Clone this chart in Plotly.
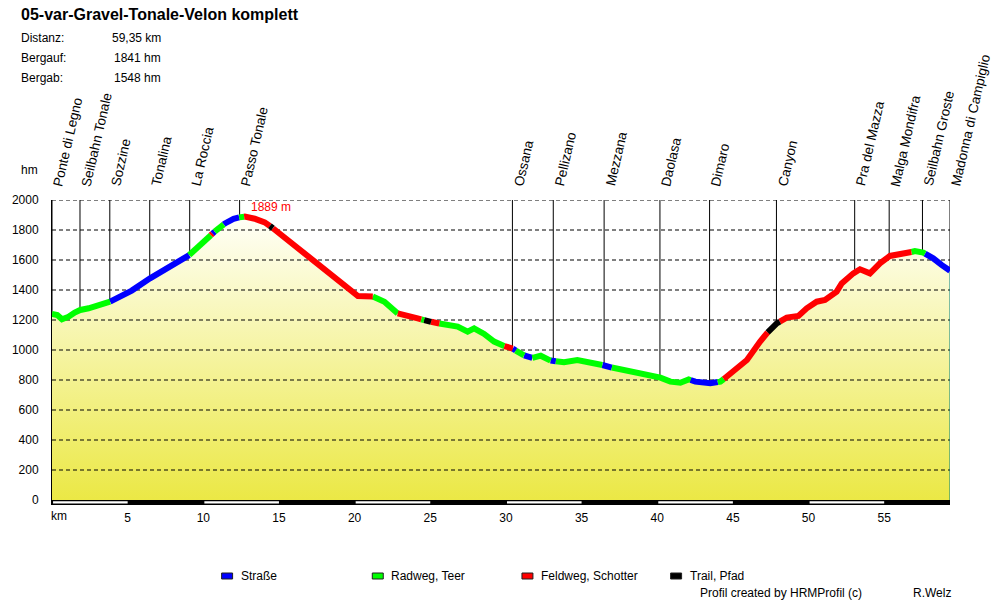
import numpy as np
import plotly.graph_objects as go

# ---------------- data ----------------
dist_km = [0.0, 0.35, 0.66, 1.1, 1.5, 1.87, 2.42, 3.3, 3.84, 4.6, 5.27, 6.48, 7.91, 9.07,
           9.89, 10.55, 10.66, 11.43, 12.0, 12.37, 12.74, 13.4, 14.06, 14.5, 14.61, 15.82,
           17.25, 18.46, 19.0, 19.66, 20.22, 21.2, 21.97, 22.85, 23.18, 24.17, 24.83, 25.49,
           26.2, 26.81, 27.47, 27.9, 28.56, 29.22, 29.88, 30.43, 31.0, 31.64, 32.3, 32.96,
           33.84, 34.72, 36.04, 36.7, 37.79, 39.1, 40.21, 40.87, 41.53, 42.08, 42.52, 43.51,
           44.17, 45.04, 45.5, 45.93, 46.8, 47.46, 47.9, 48.56, 49.33, 49.88, 50.54, 51.09, 51.86,
           52.19, 52.96, 53.4, 54.06, 54.72, 55.38, 56.48, 57.03, 57.58, 58.24, 58.79, 59.35]
elev_m = [1240, 1233, 1205, 1222, 1250, 1267, 1278, 1304, 1322, 1360, 1396, 1478, 1560, 1633,
          1711, 1770, 1782, 1844, 1874, 1884, 1889, 1875, 1851, 1820, 1811, 1711,
          1600, 1493, 1450, 1400, 1360, 1356, 1322, 1244, 1238, 1211, 1193, 1178,
          1170, 1156, 1122, 1144, 1107, 1056, 1027, 1011, 973, 944, 962, 929,
          918, 933, 911, 889, 867, 838, 816, 789, 782, 804, 789, 778,
          789, 856, 900, 933, 1056, 1138, 1178, 1216, 1227, 1278, 1322, 1333, 1389,
          1444, 1511, 1538, 1511, 1578, 1627, 1644, 1660, 1649, 1611, 1567, 1529]

waypoint_names = ["Ponte di Legno", "Seilbahn Tonale", "Sozzine", "Tonalina", "La Roccia",
                  "Passo Tonale", "Ossana", "Pellizano", "Mezzana", "Daolasa", "Dimaro",
                  "Canyon", "Pra del Mazza", "Malga Mondifra", "Seilbahn Groste",
                  "Madonna di Campiglio"]
waypoint_km = [0.0, 1.85, 3.82, 6.46, 9.1, 12.4, 30.43, 33.13, 36.49, 40.18, 43.46,
               47.88, 53.05, 55.33, 57.53, 59.35]

# surface segments: start km and type (S=Strasse, R=Radweg, F=Feldweg, T=Trail)
seg_start_km = [0.0, 3.84, 9.07, 10.5, 10.6, 10.75, 11.35, 12.37, 12.7, 14.4, 14.6, 21.2,
                22.85, 24.4, 24.6, 25.05, 25.6, 29.9, 30.45, 30.65, 31.2, 31.75, 32.95,
                33.3, 36.37, 37.0, 42.2, 44.0, 44.4, 47.3, 48.1, 56.8, 57.7]
seg_type = ["R", "S", "R", "F", "S", "R", "S", "R", "F", "T", "F", "R",
            "F", "R", "T", "F", "R", "F", "S", "R", "S", "R", "S",
            "R", "S", "R", "S", "R", "F", "T", "F", "R", "S"]

surface_keys = ["S", "R", "F", "T"]
surface_labels = ["Straße", "Radweg, Teer", "Feldweg, Schotter", "Trail, Pfad"]
surface_colors = ["#0000FF", "#00FF00", "#FF0000", "#000000"]

title_text = "05-var-Gravel-Tonale-Velon komplett"
info_labels = ["Distanz:", "Bergauf:", "Bergab:"]
info_values = ["59,35 km", "1841 hm", "1548 hm"]

y_ticks = [0, 200, 400, 600, 800, 1000, 1200, 1400, 1600, 1800, 2000]
x_ticks = [5, 10, 15, 20, 25, 30, 35, 40, 45, 50, 55]

# ---------------- figure ----------------
FONT = "Arial, Liberation Sans, sans-serif"
dist = np.array(dist_km)
elev = np.array(elev_m, dtype=float)
X_MAX = dist_km[-1]
Y_MIN, Y_MAX = -33.3, 2000

L, R, T, B = 50, 50, 200, 95
W, H = 1000, 600
PW, PH = W - L - R, H - T - B


def PX(px):
    return (px - L) / PW


def PY(py):
    return (H - B - py) / PH


fig = go.Figure()

# gradient filled area
fig.add_trace(go.Scatter(
    x=dist_km, y=elev_m, mode="lines", fill="tozeroy",
    line=dict(width=0, color="rgba(0,0,0,0)"),
    fillgradient=dict(type="vertical",
                      colorscale=[[0, "#EBE845"], [1, "#FFFFF8"]],
                      start=0, stop=float(elev.max())),
    hoverinfo="skip", showlegend=False))

# dashed grid lines (above fill)
gx, gy = [], []
for v in y_ticks[1:]:
    gx += [0, X_MAX, None]
    gy += [v, v, None]
fig.add_trace(go.Scatter(x=gx, y=gy, mode="lines",
                         line=dict(color="black", width=1, dash="4px,3px"),
                         hoverinfo="skip", showlegend=False))

# waypoint vertical lines
wx, wy = [], []
for k in waypoint_km:
    wx += [k, k, None]
    wy += [2000, float(np.interp(k, dist, elev)), None]
fig.add_trace(go.Scatter(x=wx, y=wy, mode="lines", line=dict(color="black", width=1),
                         hoverinfo="skip", showlegend=False))

# end line
fig.add_trace(go.Scatter(x=[X_MAX, X_MAX], y=[0, elev_m[-1]], mode="lines",
                         line=dict(color="#008080", width=1), hoverinfo="skip",
                         showlegend=False))

# coloured surface segments
seg_end_km = seg_start_km[1:] + [X_MAX]
for key, color in zip(surface_keys, surface_colors):
    sx, sy = [], []
    for s, e, t in zip(seg_start_km, seg_end_km, seg_type):
        if t != key:
            continue
        inner = [d for d in dist_km if s < d < e]
        xs = [s] + inner + [e]
        ys = list(np.interp(xs, dist, elev))
        sx += xs + [None]
        sy += ys + [None]
    fig.add_trace(go.Scatter(x=sx, y=sy, mode="lines",
                             line=dict(color=color, width=6),
                             hoverinfo="skip", showlegend=False))

annotations = []
shapes = []

# waypoint labels
for name, k in zip(waypoint_names, waypoint_km):
    annotations.append(dict(x=k, y=2000, xref="x", yref="y", text=name, showarrow=False,
                            textangle=-77, xanchor="left", yanchor="bottom",
                            xshift=-4, yshift=10,
                            font=dict(family=FONT, size=13.5, color="black")))

# peak label
imax = int(np.argmax(elev))
annotations.append(dict(x=dist_km[imax], y=elev_m[imax], xref="x", yref="y",
                        text=f"{elev_m[imax]} m", showarrow=False, xanchor="left",
                        yanchor="middle", xshift=4, yshift=10,
                        font=dict(family=FONT, size=12, color="#FF0000")))

# title and info
annotations.append(dict(x=PX(17), y=PY(14), xref="paper", yref="paper", text=f"<b>{title_text}</b>",
                        showarrow=False, xanchor="left", yanchor="middle",
                        font=dict(family=FONT, size=16, color="black")))
for i, (lab, val) in enumerate(zip(info_labels, info_values)):
    yy = 38 + 20 * i
    annotations.append(dict(x=PX(17), y=PY(yy), xref="paper", yref="paper", text=lab,
                            showarrow=False, xanchor="left", yanchor="middle",
                            font=dict(family=FONT, size=12, color="black")))
    annotations.append(dict(x=PX(161), y=PY(yy), xref="paper", yref="paper", text=val,
                            showarrow=False, xanchor="right", yanchor="middle",
                            font=dict(family=FONT, size=12, color="black")))

annotations.append(dict(x=PX(17), y=PY(170), xref="paper", yref="paper", text="hm",
                        showarrow=False, xanchor="left", yanchor="middle",
                        font=dict(family=FONT, size=12, color="black")))
annotations.append(dict(x=PX(47), y=PY(516), xref="paper", yref="paper", text="km",
                        showarrow=False, xanchor="left", yanchor="middle",
                        font=dict(family=FONT, size=12, color="black")))

# legend
leg_x = [220, 371, 521, 670]
for lx, lab, col in zip(leg_x, surface_labels, surface_colors):
    shapes.append(dict(type="rect", xref="paper", yref="paper",
                       x0=PX(lx), x1=PX(lx + 11), y0=PY(579), y1=PY(573),
                       fillcolor=col, line=dict(color="#202020", width=1)))
    annotations.append(dict(x=PX(lx + 17), y=PY(576), xref="paper", yref="paper", text=lab,
                            showarrow=False, xanchor="left", yanchor="middle",
                            font=dict(family=FONT, size=12, color="black")))
annotations.append(dict(x=PX(697), y=PY(593), xref="paper", yref="paper",
                        text="Profil created by HRMProfil (c)", showarrow=False,
                        xanchor="left", yanchor="middle",
                        font=dict(family=FONT, size=12, color="black")))
annotations.append(dict(x=PX(911), y=PY(593), xref="paper", yref="paper",
                        text="R.Welz", showarrow=False,
                        xanchor="left", yanchor="middle",
                        font=dict(family=FONT, size=12, color="black")))

# km scale bar
shapes.append(dict(type="rect", xref="x", yref="y", x0=0, x1=X_MAX, y0=Y_MIN, y1=0,
                   fillcolor="black", line=dict(width=0), layer="above"))
for i in range(0, len(x_ticks) + 1, 2):
    x0 = 0 if i == 0 else x_ticks[i - 1]
    x1 = x_ticks[i] if i < len(x_ticks) else X_MAX
    shapes.append(dict(type="rect", xref="x", yref="y", x0=x0 + 0.07, x1=x1, y0=-24, y1=-8,
                       fillcolor="white", line=dict(width=0), layer="above"))

fig.update_layout(
    width=W, height=H,
    margin=dict(l=L, r=R, t=T, b=B, pad=0),
    paper_bgcolor="white", plot_bgcolor="white",
    showlegend=False,
    annotations=annotations, shapes=shapes,
    xaxis=dict(range=[0, X_MAX], tickvals=x_ticks, ticktext=[str(v) for v in x_ticks],
               showgrid=False, zeroline=False, showline=False, ticks="",
               ticklabelstandoff=4,
               tickfont=dict(family=FONT, size=12, color="black"), fixedrange=True),
    yaxis=dict(range=[Y_MIN, Y_MAX], tickvals=y_ticks, showgrid=False, zeroline=False,
               showline=True, linecolor="black", linewidth=1, ticks="",
               ticklabelstandoff=10,
               tickfont=dict(family=FONT, size=12, color="black"), fixedrange=True),
)

fig.write_html("out.html", config={"displayModeBar": False},
               post_script="document.body.style.margin='0';document.body.style.overflow='hidden';")
